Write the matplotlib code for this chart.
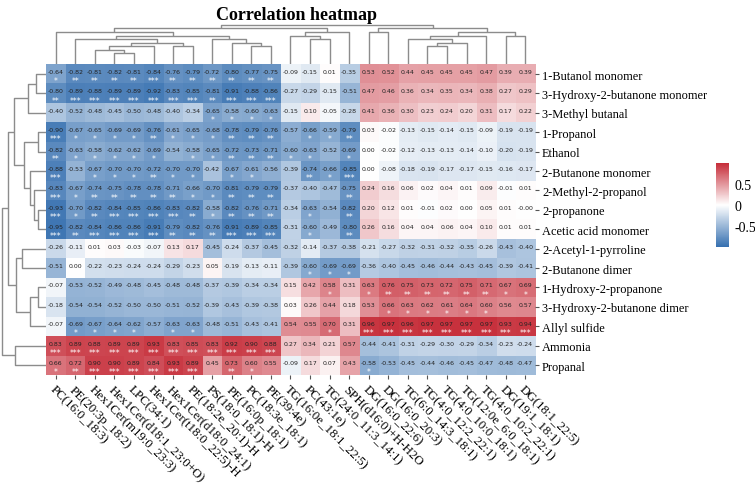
"""Correlation heatmap of volatiles vs lipids with hand-read dendrograms."""

import matplotlib
matplotlib.use("Agg")
import matplotlib.pyplot as plt
import numpy as np
from matplotlib.colors import LinearSegmentedColormap

row_labels = [
    "1-Butanol monomer", "3-Hydroxy-2-butanone monomer", "3-Methyl butanal",
    "1-Propanol", "Ethanol", "2-Butanone monomer", "2-Methyl-2-propanol",
    "2-propanone", "Acetic acid monomer", "2-Acetyl-1-pyrroline",
    "2-Butanone dimer", "1-Hydroxy-2-propanone", "3-Hydroxy-2-butanone dimer",
    "Allyl sulfide", "Ammonia", "Propanal",
]

col_labels = [
    "PC(16:0_18:3)", "PE(20:3p_18:2)", "Hex1Cer(m19:0_23:3)",
    "Hex1Cer(d18:1_23:0+O)", "LPC(34:1)", "Hex1Cer(t18:0_22:5)-H",
    "Hex1Cer(d18:0_24:1)", "PE(18:2e_20:1)-H", "PS(18:0_18:1)-H",
    "PE(16:0p_18:1)", "PC(18:3e_18:1)", "PE(39:4e)",
    "TG(16:0e_18:1_22:5)", "PC(43:1e)", "TG(24:0_11:3_14:1)",
    "SPH(d16:0)+H-H2O", "DG(16:0_22:6)", "DG(16:0_20:3)",
    "TG(6:0_14:3_18:1)", "TG(4:0_12:2_22:1)", "TG(4:0_10:0_18:1)",
    "TG(12:0e_6:0_18:1)", "TG(4:0_10:2_22:1)", "DG(19:1_18:1)",
    "DG(18:1_22:5)",
]

corr = np.array([
    [-0.64, -0.82, -0.81, -0.82, -0.81, -0.84, -0.76, -0.79, -0.72, -0.80, -0.77, -0.75,
     -0.09, -0.15, 0.01, -0.35, 0.53, 0.52, 0.44, 0.45, 0.45, 0.45, 0.47, 0.39, 0.39],
    [-0.80, -0.89, -0.88, -0.89, -0.89, -0.92, -0.83, -0.85, -0.81, -0.91, -0.88, -0.86,
     -0.27, -0.29, -0.15, -0.51, 0.47, 0.46, 0.36, 0.34, 0.35, 0.34, 0.38, 0.27, 0.29],
    [-0.40, -0.52, -0.48, -0.45, -0.50, -0.48, -0.40, -0.34, -0.65, -0.58, -0.60, -0.63,
     -0.15, 0.10, -0.05, -0.28, 0.41, 0.36, 0.30, 0.23, 0.24, 0.20, 0.31, 0.17, 0.22],
    [-0.90, -0.67, -0.65, -0.69, -0.69, -0.76, -0.61, -0.65, -0.68, -0.78, -0.79, -0.76,
     -0.57, -0.66, -0.59, -0.79, 0.03, -0.02, -0.13, -0.15, -0.14, -0.15, -0.09, -0.19, -0.19],
    [-0.82, -0.63, -0.58, -0.62, -0.62, -0.69, -0.54, -0.58, -0.65, -0.72, -0.73, -0.71,
     -0.60, -0.63, -0.52, -0.69, 0.00, -0.02, -0.12, -0.13, -0.13, -0.14, -0.10, -0.20, -0.19],
    [-0.88, -0.53, -0.67, -0.70, -0.70, -0.72, -0.70, -0.70, -0.42, -0.67, -0.61, -0.56,
     -0.39, -0.74, -0.66, -0.85, 0.00, -0.08, -0.18, -0.19, -0.17, -0.17, -0.15, -0.16, -0.17],
    [-0.83, -0.67, -0.74, -0.75, -0.78, -0.78, -0.71, -0.66, -0.70, -0.81, -0.79, -0.79,
     -0.37, -0.40, -0.47, -0.75, 0.24, 0.16, 0.06, 0.02, 0.04, 0.01, 0.09, -0.01, 0.01],
    [-0.93, -0.70, -0.82, -0.84, -0.85, -0.86, -0.83, -0.82, -0.58, -0.82, -0.76, -0.71,
     -0.34, -0.63, -0.54, -0.82, 0.20, 0.12, 0.01, -0.01, 0.02, 0.00, 0.05, 0.01, -0.0],
    [-0.95, -0.82, -0.84, -0.86, -0.86, -0.91, -0.79, -0.82, -0.76, -0.91, -0.89, -0.85,
     -0.31, -0.60, -0.49, -0.80, 0.26, 0.16, 0.04, 0.04, 0.06, 0.04, 0.10, 0.01, 0.01],
    [-0.26, -0.11, 0.01, 0.03, -0.03, -0.07, 0.13, 0.17, -0.45, -0.24, -0.37, -0.45,
     -0.32, -0.14, -0.37, -0.38, -0.21, -0.27, -0.32, -0.31, -0.32, -0.35, -0.26, -0.43, -0.40],
    [-0.51, 0.00, -0.22, -0.23, -0.24, -0.24, -0.29, -0.23, 0.05, -0.19, -0.13, -0.11,
     -0.39, -0.60, -0.69, -0.69, -0.36, -0.40, -0.45, -0.46, -0.44, -0.43, -0.45, -0.39, -0.41],
    [-0.07, -0.53, -0.52, -0.49, -0.48, -0.45, -0.48, -0.48, -0.37, -0.39, -0.34, -0.34,
     0.15, 0.42, 0.58, 0.31, 0.63, 0.76, 0.75, 0.73, 0.72, 0.75, 0.71, 0.67, 0.69],
    [-0.18, -0.54, -0.54, -0.52, -0.50, -0.50, -0.51, -0.52, -0.39, -0.43, -0.39, -0.38,
     0.03, 0.26, 0.44, 0.18, 0.53, 0.66, 0.63, 0.62, 0.61, 0.64, 0.60, 0.56, 0.57],
    [-0.07, -0.69, -0.67, -0.64, -0.62, -0.57, -0.63, -0.63, -0.48, -0.51, -0.43, -0.41,
     0.54, 0.55, 0.70, 0.31, 0.96, 0.97, 0.96, 0.97, 0.97, 0.97, 0.97, 0.93, 0.94],
    [0.83, 0.89, 0.88, 0.89, 0.89, 0.93, 0.83, 0.85, 0.83, 0.92, 0.90, 0.88,
     0.27, 0.34, 0.21, 0.57, -0.44, -0.41, -0.31, -0.29, -0.30, -0.29, -0.34, -0.23, -0.24],
    [0.66, 0.72, 0.90, 0.90, 0.89, 0.84, 0.93, 0.89, 0.45, 0.73, 0.60, 0.55,
     -0.09, 0.17, 0.07, 0.43, -0.58, -0.53, -0.45, -0.44, -0.46, -0.45, -0.47, -0.48, -0.47],
])

# dendrogram merges: node -> (child, child, height);
# ints are leaf indices, heights are in pixels from the heatmap edge
col_tree = {
    "S": (3, 4, 11), "T": (2, "S", 14.5), "V": ("T", 5, 18), "U": (6, 7, 18.5),
    "W": ("V", "U", 21.5), "Y": (1, "W", 25.5), "Q": (10, 11, 18.5),
    "R": (9, "Q", 21.5), "Z": (8, "R", 25.5), "X": ("Y", "Z", 28.5),
    "A": (0, "X", 32.5), "N": (13, 14, 25.5), "O": (12, "N", 28.5),
    "P": ("O", 15, 32.5), "B": ("A", "P", 36), "J": (16, 17, 32.5),
    "G": (19, 20, 18.5), "H": ("G", 21, 21.5), "I": (18, "H", 25),
    "L": ("I", 22, 28.5), "K": (23, 24, 28.5), "M": ("L", "K", 32.5),
    "C": ("J", "M", 36), "root": ("B", "C", 39.5),
}

row_tree = {
    "a": (0, 1, 10), "b": ("a", 2, 18), "c": (3, 4, 8), "d": (7, 8, 8),
    "e": (6, "d", 12), "f": (5, "e", 16), "g": ("c", "f", 22),
    "h": ("b", "g", 32), "i": (9, 10, 24), "j": (11, 12, 8),
    "k": ("j", 13, 16), "l": ("i", "k", 30), "m": ("h", "l", 38),
    "n": (14, 15, 31), "root": ("m", "n", 44),
}


def stars(v):
    a = abs(v)
    if a >= 0.825:
        return "***"
    if a >= 0.705:
        return "**"
    if a >= 0.575:
        return "*"
    return ""


def draw_tree(ax, tree, node, vertical):
    """Draw U-shaped links recursively; return (position, height)."""
    if isinstance(node, int):
        return node, 0.0
    a, b, h = tree[node]
    pa, ha = draw_tree(ax, tree, a, vertical)
    pb, hb = draw_tree(ax, tree, b, vertical)
    xs = [pa, pa, pb, pb]
    ys = [ha, h, h, hb]
    if vertical:
        ax.plot(xs, ys, color="#8c8c8c", lw=1.0, solid_capstyle="butt")
    else:
        ax.plot(ys, xs, color="#8c8c8c", lw=1.0, solid_capstyle="butt")
    return (pa + pb) / 2, h


W, H = 755, 489
fig = plt.figure(figsize=(W / 100, H / 100), dpi=100)

hm_l, hm_r, hm_t, hm_b = 45.9, 535.0, 65.3, 375.8
ax = fig.add_axes([hm_l / W, 1 - hm_b / H, (hm_r - hm_l) / W, (hm_b - hm_t) / H])
ax_top = fig.add_axes([hm_l / W, 1 - hm_t / H, (hm_r - hm_l) / W, 40 / H])
ax_left = fig.add_axes([0, 1 - hm_b / H, hm_l / W, (hm_b - hm_t) / H])
cax = fig.add_axes([716 / W, 1 - 248 / H, 13 / W, 84 / H])

cmap = LinearSegmentedColormap.from_list("bwr_soft", ["#3670b0", "#ffffff", "#c62d39"])
im = ax.imshow(corr, cmap=cmap, vmin=-1, vmax=1, aspect="auto", interpolation="nearest")

for i in range(corr.shape[0]):
    for j in range(corr.shape[1]):
        v = corr[i, j]
        ax.text(j, i - 0.13, f"{v:.2f}", ha="center", va="center",
                fontsize=4.5, color="#222222", family="DejaVu Sans")
        s = stars(v)
        if s:
            ax.text(j, i + 0.34, s, ha="center", va="center",
                    fontsize=5.6, color="white", family="DejaVu Sans")

ax.set_xticks(np.arange(len(col_labels)))
ax.set_yticks(np.arange(len(row_labels)))
ax.set_xticklabels(col_labels, rotation=-45, ha="left", va="top",
                   rotation_mode="anchor", family="Liberation Serif", fontsize=9.3)
ax.set_yticklabels(row_labels, family="Liberation Serif", fontsize=8.9)
ax.yaxis.tick_right()
ax.tick_params(axis="both", length=3, width=0.8, color="#555555", pad=2)
ax.tick_params(axis="x", pad=3)
for sp in ax.spines.values():
    sp.set_visible(False)

draw_tree(ax_top, col_tree, "root", vertical=True)
ax_top.set_xlim(-0.5, len(col_labels) - 0.5)
ax_top.set_ylim(0, 40)
ax_top.axis("off")

draw_tree(ax_left, row_tree, "root", vertical=False)
ax_left.set_ylim(len(row_labels) - 0.5, -0.5)
ax_left.set_xlim(hm_l, 0)
ax_left.axis("off")

cb = fig.colorbar(im, cax=cax, ticks=[-0.5, 0, 0.5])
cb.ax.set_yticklabels(["-0.5", "0", "0.5"], family="Liberation Serif", fontsize=10)
cb.ax.tick_params(length=2, color="white", pad=2)
cb.outline.set_visible(False)

fig.text(296 / W, 1 - 15 / H, "Correlation heatmap", ha="center", va="center",
         fontsize=13, fontweight="bold", family="Liberation Serif")

fig.savefig("out.png", dpi=100)
